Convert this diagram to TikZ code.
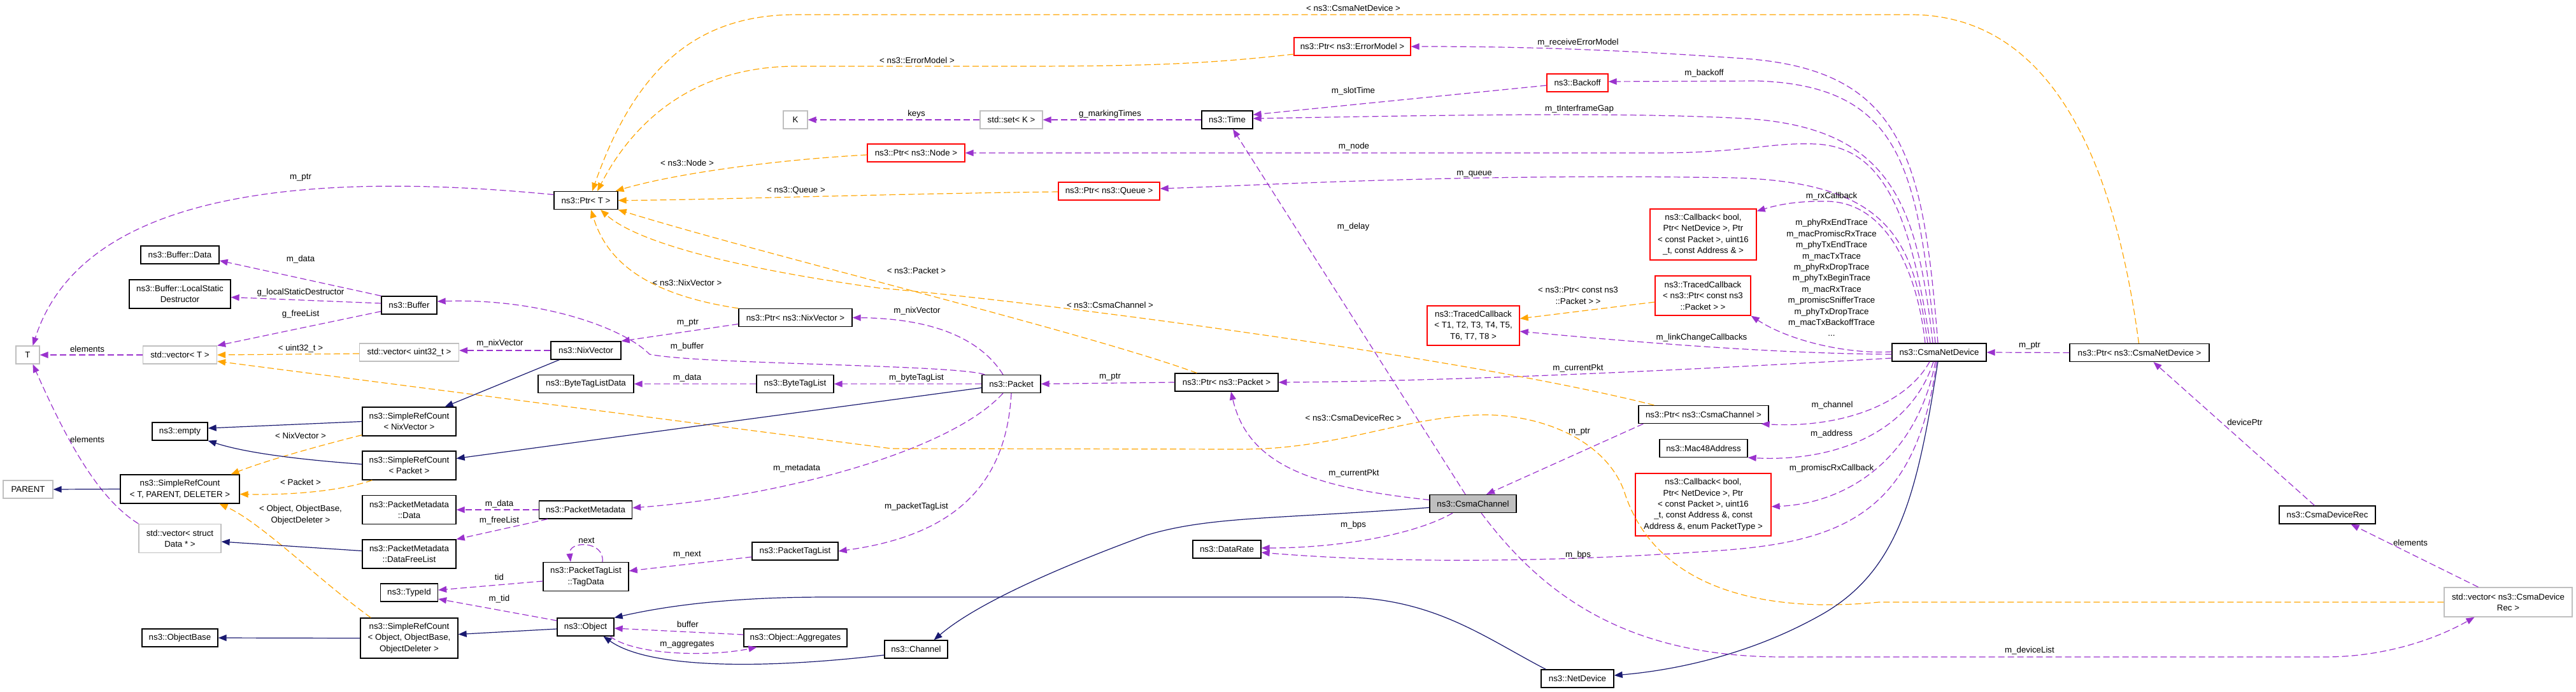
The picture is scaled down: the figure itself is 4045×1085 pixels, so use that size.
\documentclass[tikz,border=0pt]{standalone}
\usepackage{fontspec}
\setmainfont{Liberation Sans}
\usetikzlibrary{arrows.meta,calc}
\definecolor{usec}{HTML}{9A32CD}
\definecolor{tmplc}{HTML}{FFA500}
\definecolor{inhc}{HTML}{191970}
\definecolor{grayb}{HTML}{BFBFBF}
\definecolor{redb}{HTML}{FF0000}
\newcommand{\dxf}{\fontsize{13.3pt}{17.4pt}\selectfont}
\begin{document}
\begin{tikzpicture}[x=1pt,y=-1pt,
 box/.style={draw=black,line width=1.3pt,fill=white,inner sep=0pt,align=center,font=\dxf},
 gbox/.style={box,draw=grayb},
 rbox/.style={box,draw=redb},
 bx/.style 2 args={minimum width=#1pt,minimum height=#2pt},
 lbl/.style={font=\dxf,inner sep=0pt,align=center},
 tip/.style={-{Triangle[length=13pt,width=10pt]}},
 use/.style={draw=usec,line width=1.2pt,dash pattern=on 10pt off 5pt,tip},
 tmpl/.style={draw=tmplc,line width=1.2pt,dash pattern=on 10pt off 5pt,tip},
 inh/.style={draw=inhc,line width=1.2pt,tip}]
\fill[white] (0,0) rectangle (4045,1085);
\useasboundingbox (0,0) rectangle (4045,1085);
% nodes
\node[box,bx={123}{28}] (BufData) at (282.5,400) {ns3::Buffer::Data};
\node[box,bx={159}{45}] (BufLSD) at (282.5,461.5) {ns3::Buffer::LocalStatic\\Destructor};
\node[box,bx={87}{28}] (Buffer) at (642.5,479) {ns3::Buffer};
\node[gbox,bx={37}{28}] (T) at (43.5,557) {T};
\node[gbox,bx={116}{28}] (stdvecT) at (282.5,557) {std::vector< T >};
\node[gbox,bx={156}{28}] (stdvecuint) at (642.5,553) {std::vector< uint32\_t >};
\node[box,bx={110}{28}] (NixVector) at (920,550) {ns3::NixVector};
\node[box,bx={178}{28}] (PtrNix) at (1249,498.5) {ns3::Ptr< ns3::NixVector >};
\node[box,bx={150}{28}] (BTLD) at (920,602.5) {ns3::ByteTagListData};
\node[box,bx={121}{28}] (BTL) at (1248.5,602.5) {ns3::ByteTagList};
\node[box,bx={87}{28}] (empty) at (282.5,677) {ns3::empty};
\node[box,bx={147}{45}] (SRCNix) at (642.5,661.5) {ns3::SimpleRefCount\\< NixVector >};
\node[box,bx={147}{45}] (SRCPacket) at (642.5,730.5) {ns3::SimpleRefCount\\< Packet >};
\node[box,bx={187}{45}] (SRCT) at (282.5,767.5) {ns3::SimpleRefCount\\< T, PARENT, DELETER >};
\node[gbox,bx={78}{28}] (PARENT) at (44,768) {PARENT};
\node[box,bx={147}{45}] (PMData) at (642.5,800) {ns3::PacketMetadata\\::Data};
\node[box,bx={147}{45}] (PMDFL) at (642.5,869.5) {ns3::PacketMetadata\\::DataFreeList};
\node[gbox,bx={129}{45}] (stdvecData) at (282.5,845) {std::vector< struct\\Data * >};
\node[box,bx={146}{28}] (PM) at (919.5,800) {ns3::PacketMetadata};
\node[box,bx={134}{45}] (TagData) at (920,905) {ns3::PacketTagList\\::TagData};
\node[box,bx={135}{28}] (PTL) at (1248.5,865) {ns3::PacketTagList};
\node[box,bx={90}{28}] (TypeId) at (642.5,930) {ns3::TypeId};
\node[box,bx={153}{63}] (SRCObj) at (642.5,1001.5) {ns3::SimpleRefCount\\< Object, ObjectBase,\\ObjectDeleter >};
\node[box,bx={119}{28}] (ObjectBase) at (282.5,1001) {ns3::ObjectBase};
\node[box,bx={89}{28}] (Object) at (919.5,984) {ns3::Object};
\node[box,bx={162}{28}] (ObjAgg) at (1249,1001) {ns3::Object::Aggregates};
\node[box,bx={99}{28}] (Channel) at (1438.5,1019) {ns3::Channel};
\node[box,bx={92}{28}] (Packet) at (1588,602.5) {ns3::Packet};
\node[box,bx={162}{28}] (PtrPacket) at (1926,600) {ns3::Ptr< ns3::Packet >};
\node[box,bx={100}{28}] (PtrT) at (920,314.5) {ns3::Ptr< T >};
\node[gbox,bx={38}{28}] (K) at (1249,188) {K};
\node[gbox,bx={98}{28}] (stdsetK) at (1588,188) {std::set< K >};
\node[box,bx={80}{28}] (Time) at (1927,188) {ns3::Time};
\node[rbox,bx={153}{28}] (PtrNode) at (1438.5,240) {ns3::Ptr< ns3::Node >};
\node[rbox,bx={159}{28}] (PtrQueue) at (1741.5,300) {ns3::Ptr< ns3::Queue >};
\node[rbox,bx={183}{28}] (PtrErr) at (2123.5,73) {ns3::Ptr< ns3::ErrorModel >};
\node[rbox,bx={96}{28}] (Backoff) at (2477,130) {ns3::Backoff};
\node[rbox,bx={167}{80}] (CB1) at (2674.5,368) {ns3::Callback< bool,\\Ptr< NetDevice >, Ptr\\< const Packet >, uint16\\\_t, const Address \& >};
\node[rbox,bx={150}{62}] (TCBP) at (2674,464) {ns3::TracedCallback\\< ns3::Ptr< const ns3\\::Packet > >};
\node[rbox,bx={145}{62}] (TCBT) at (2313.5,511) {ns3::TracedCallback\\< T1, T2, T3, T4, T5,\\T6, T7, T8 >};
\node[box,bx={148}{28}] (CND) at (3045,553) {ns3::CsmaNetDevice};
\node[box,bx={219}{28}] (PtrCND) at (3359.5,553.5) {ns3::Ptr< ns3::CsmaNetDevice >};
\node[box,bx={204}{28}] (PtrCC) at (2675,650.5) {ns3::Ptr< ns3::CsmaChannel >};
\node[box,bx={138}{28}] (Mac48) at (2675,703.5) {ns3::Mac48Address};
\node[rbox,bx={213}{98}] (CB2) at (2674.5,792) {ns3::Callback< bool,\\Ptr< NetDevice >, Ptr\\< const Packet >, uint16\\\_t, const Address \&, const\\Address \&, enum PacketType >};
\node[box,bx={136}{28},fill=grayb] (CC) at (2313,790.5) {ns3::CsmaChannel};
\node[box,bx={107}{28}] (DataRate) at (1926.5,862) {ns3::DataRate};
\node[box,bx={114}{28}] (NetDevice) at (2477,1065) {ns3::NetDevice};
\node[box,bx={151}{28}] (CDR) at (3654.5,808) {ns3::CsmaDeviceRec};
\node[gbox,bx={201}{46}] (stdvecCDR) at (3938.5,945) {std::vector< ns3::CsmaDevice\\Rec >};
% usage edges (purple)
\draw[use] (Buffer.north west) -- ($(BufData.east)+(0,9)$);
\draw[use] ($(Buffer.west)+(0,-3)$) -- ($(BufLSD.east)+(0,5)$);
\draw[use] ($(Buffer.south west)+(0,-5)$) -- (stdvecT.north east);
\draw[use] (stdvecT.west) -- (T.east);
\draw[use] (stdvecData.north west) .. controls (150,780) and (100,680) .. ($(T.south)+(8,0)$);
\draw[use] ($(PtrT.west)+(0,-9)$) .. controls (400,260) and (120,330) .. ($(T.north)+(8,0)$);
\draw[use] (NixVector.west) -- ($(stdvecuint.east)+(0,-3)$);
\draw[use] ($(PtrNix.west)+(0,10)$) -- (NixVector.north east);
\draw[use] ($(Packet.north west)+(5,0)$) .. controls (1500,572) and (1100,572) .. (1020,556) .. controls (980,515) and (850,468) .. ($(Buffer.east)+(0,-6)$);
\draw[use] ($(Packet.north)+(-13,0)$) .. controls (1545,540) and (1480,500) .. (PtrNix.east);
\draw[use] (BTL.west) -- (BTLD.east);
\draw[use] (Packet.west) -- (BTL.east);
\draw[use] (PM.west) -- (PMData.east);
\draw[use] ($(PM.south west)+(14,0)$) -- (PMDFL.north east);
\draw[use] ($(Packet.south)+(-13,0)$) .. controls (1490,710) and (1220,780) .. ($(PM.east)+(0,-3)$);
\draw[use] ($(TagData.north)+(26,0)$) .. controls (950,848) and (892,848) .. ($(TagData.north)+(-24,0)$);
\draw[use] ($(PTL.west)+(0,9)$) -- ($(TagData.east)+(0,-9)$);
\draw[use] (Packet.south) .. controls (1580,760) and (1500,840) .. (PTL.east);
\draw[use] ($(TagData.west)+(0,7)$) -- ($(TypeId.east)+(0,-4)$);
\draw[use] ($(Object.west)+(0,-10)$) -- ($(TypeId.east)+(0,10)$);
\draw[use] ($(ObjAgg.west)+(0,-5)$) -- ($(Object.east)+(0,2)$);
\draw[use] ($(Object.south east)+(-7,0)$) .. controls (1000,1030) and (1120,1030) .. ($(ObjAgg.south west)+(21,0)$);
\draw[use] (stdsetK.west) -- (K.east);
\draw[use] (Time.west) -- (stdsetK.east);
\draw[use] (PtrPacket.west) -- (Packet.east);
\draw[use] ($(CND.north)+(-2,0)$) .. controls (3020,250) and (2990,110) .. (2740,92) .. controls (2500,75) and (2350,73) .. (PtrErr.east);
\draw[use] ($(CND.north)+(-6,0)$) .. controls (3010,270) and (2990,135) .. (2760,127) -- ($(Backoff.east)+(0,-2)$);
\draw[use] ($(Backoff.west)+(0,4)$) -- ($(Time.east)+(0,-8)$);
\draw[use] ($(CND.north)+(-10,0)$) .. controls (3010,320) and (2970,200) .. (2740,186) .. controls (2550,176) and (2300,180) .. ($(Time.east)+(0,-2)$);
\draw[use] ($(CND.north)+(-14,0)$) .. controls (3000,340) and (2960,230) .. (2850,226) .. controls (2780,223) and (2740,240) .. (2600,240) -- (PtrNode.east);
\draw[use] ($(CND.north)+(-18,0)$) .. controls (3005,380) and (2970,285) .. (2720,279) .. controls (2300,272) and (2000,290) .. ($(PtrQueue.east)+(0,-4)$);
\draw[use] ($(CC.north)+(-12,0)$) -- ($(Time.south)+(9,0)$);
\draw[use] ($(CND.north)+(-22,0)$) .. controls (3010,420) and (2960,318) .. (2870,316) .. controls (2820,315) and (2790,322) .. ($(CB1.north east)+(0,4)$);
\draw[use] ($(CND.west)+(0,-1)$) .. controls (2900,556) and (2810,535) .. (TCBP.south east);
\draw[use] ($(CND.west)+(0,3)$) .. controls (2800,555) and (2600,540) .. ($(TCBT.east)+(0,9)$);
\draw[use] ($(CND.west)+(0,9)$) .. controls (2700,578) and (2300,598) .. (PtrPacket.east);
\draw[use] ($(CC.west)+(0,-6)$) .. controls (2060,765) and (1960,730) .. ($(PtrPacket.south)+(7,0)$);
\draw[use] (PtrCND.west) -- (CND.east);
\draw[use] ($(CND.south)+(-15,0)$) .. controls (2990,640) and (2880,672) .. ($(PtrCC.south east)+(-12,0)$);
\draw[use] ($(CND.south)+(-9,0)$) .. controls (3000,680) and (2880,725) .. (Mac48.south east);
\draw[use] ($(CND.south)+(-6,0)$) .. controls (3010,720) and (2900,790) .. ($(CB2.east)+(0,3)$);
\draw[use] ($(CND.south)+(-4,0)$) .. controls (3010,800) and (2900,850) .. (2700,864) .. controls (2450,882) and (2200,885) .. ($(DataRate.east)+(0,5)$);
\draw[use] ($(CC.south)+(-32,0)$) .. controls (2220,840) and (2100,860) .. ($(DataRate.east)+(0,-2)$);
\draw[use] ($(PtrCC.south west)+(8,0)$) -- ($(CC.north)+(21,0)$);
\draw[use] ($(CDR.north)+(-20,0)$) -- ($(PtrCND.south)+(22,0)$);
\draw[use] ($(stdvecCDR.north)+(-47,0)$) -- ($(CDR.south)+(37,0)$);
\draw[use] ($(CC.south)+(13,0)$) .. controls (2420,930) and (2550,1031) .. (2800,1031) -- (3650,1031) .. controls (3750,1031) and (3830,1000) .. ($(stdvecCDR.south)+(-53,0)$);
% template edges (orange)
\draw[tmpl] ($(stdvecuint.west)+(0,2)$) -- (stdvecT.east);
\draw[tmpl] ($(SRCNix.south west)+(0,-2)$) .. controls (500,700) and (420,722) .. ($(SRCT.north east)+(-14,0)$);
\draw[tmpl] ($(SRCPacket.south west)+(16,0)$) .. controls (530,772) and (450,777) .. ($(SRCT.east)+(0,8)$);
\draw[tmpl] ($(SRCObj.north west)+(17,0)$) .. controls (500,910) and (410,820) .. ($(SRCT.south)+(62,0)$);
\draw[tmpl] ($(PtrCND.north)+(-1,0)$) .. controls (3320,250) and (3220,23) .. (3000,23) -- (1250,23) .. controls (1100,23) and (1000,100) .. ($(PtrT.north)+(10,0)$);
\draw[tmpl] ($(PtrErr.west)+(0,12)$) .. controls (1900,100) and (1800,104) .. (1600,104) -- (1250,104) .. controls (1100,104) and (1000,180) .. ($(PtrT.north)+(18,0)$);
\draw[tmpl] ($(PtrNode.west)+(0,3)$) .. controls (1200,252) and (1050,275) .. ($(PtrT.north east)+(-4,0)$);
\draw[tmpl] ($(PtrQueue.west)+(0,1)$) .. controls (1400,304) and (1100,314) .. (PtrT.east);
\draw[tmpl] ($(PtrPacket.north west)+(35,0)$) .. controls (1700,520) and (1200,400) .. (PtrT.south east);
\draw[tmpl] ($(PtrCC.north west)+(25,0)$) .. controls (2300,560) and (1600,470) .. (1380,452) .. controls (1150,420) and (1000,380) .. ($(PtrT.south)+(23,0)$);
\draw[tmpl] (PtrNix.north west) .. controls (1000,460) and (950,400) .. ($(PtrT.south)+(8,0)$);
\draw[tmpl] ($(TCBP.west)+(0,10)$) -- ($(TCBT.east)+(0,-11)$);
\draw[tmpl] (stdvecCDR.west) -- (2950,945) .. controls (2780,962) and (2600,930) .. (2550,770) .. controls (2520,690) and (2420,650) .. (2326,651) .. controls (2200,655) and (2100,705) .. (1950,705) -- (1400,704) -- ($(stdvecT.east)+(0,10)$);
% inheritance edges (navy)
\draw[inh] (SRCT.west) -- (PARENT.east);
\draw[inh] (SRCNix.west) -- ($(empty.east)+(0,-5)$);
\draw[inh] ($(SRCPacket.west)+(0,-2)$) .. controls (480,722) and (390,712) .. (empty.south east);
\draw[inh] ($(NixVector.south west)+(14,0)$) -- ($(SRCNix.north east)+(-18,0)$);
\draw[inh] ($(Packet.west)+(0,6)$) -- ($(SRCPacket.east)+(0,-11)$);
\draw[inh] ($(PMDFL.west)+(0,-5)$) -- ($(stdvecData.east)+(0,5)$);
\draw[inh] (SRCObj.west) -- (ObjectBase.east);
\draw[inh] ($(Object.west)+(0,3)$) -- ($(SRCObj.east)+(0,-6)$);
\draw[inh] ($(NetDevice.north west)+(8,0)$) .. controls (2330,1000) and (2250,937) .. (2100,937) -- (1300,937) .. controls (1150,937) and (1050,950) .. (Object.north east);
\draw[inh] ($(Channel.west)+(0,9)$) .. controls (1200,1050) and (1020,1050) .. ($(Object.south)+(28,0)$);
\draw[inh] ($(CC.west)+(0,6)$) .. controls (2000,815) and (1900,810) .. (1800,840) .. controls (1650,895) and (1530,950) .. ($(Channel.north)+(28,0)$);
\draw[inh] ($(CND.south)+(-2,0)$) .. controls (3010,780) and (2980,900) .. (2854,968) .. controls (2760,1020) and (2650,1050) .. ($(NetDevice.east)+(0,-5)$);
% labels
\node[lbl] (La1) at (472,279) {m\_ptr};
\node[lbl] (La2) at (472,407) {m\_data};
\node[lbl] (La3) at (472,459) {g\_localStaticDestructor};
\node[lbl] (La4) at (472,493) {g\_freeList};
\node[lbl] (La5) at (137,548) {elements};
\node[lbl] (La6) at (472,547) {< uint32\_t >};
\node[lbl] (La7) at (472,684) {< NixVector >};
\node[lbl] (La8) at (137,690) {elements};
\node[lbl] (La9) at (472,757) {< Packet >};
\node[lbl] (La10) at (472,808) {< Object, ObjectBase,\\ObjectDeleter >};
\node[lbl] (La11) at (1079,256) {< ns3::Node >};
\node[lbl] (La12) at (1250,299) {< ns3::Queue >};
\node[lbl] (La13) at (1079,444) {< ns3::NixVector >};
\node[lbl] (La14) at (1080,507) {m\_ptr};
\node[lbl] (La15) at (785,539) {m\_nixVector};
\node[lbl] (La16) at (1079,544) {m\_buffer};
\node[lbl] (La17) at (1079,593) {m\_data};
\node[lbl] (La18) at (784,791) {m\_data};
\node[lbl] (La19) at (784,817) {m\_freeList};
\node[lbl] (La20) at (1251,735) {m\_metadata};
\node[lbl] (La21) at (921,848) {next};
\node[lbl] (La22) at (1079,871) {m\_next};
\node[lbl] (La23) at (784,906) {tid};
\node[lbl] (La24) at (784,940) {m\_tid};
\node[lbl] (La25) at (1080,980) {buffer};
\node[lbl] (La26) at (1079,1012) {m\_aggregates};
\node[lbl] (La27) at (1440,95) {< ns3::ErrorModel >};
\node[lbl] (La28) at (1439,179) {keys};
\node[lbl] (La29) at (1743,179) {g\_markingTimes};
\node[lbl] (La30) at (1439,425) {< ns3::Packet >};
\node[lbl] (La31) at (1743,479) {< ns3::CsmaChannel >};
\node[lbl] (La32) at (1440,488) {m\_nixVector};
\node[lbl] (La33) at (1439,593) {m\_byteTagList};
\node[lbl] (La34) at (1743,592) {m\_ptr};
\node[lbl] (La35) at (1439,795) {m\_packetTagList};
\node[lbl] (La36) at (2125,13) {< ns3::CsmaNetDevice >};
\node[lbl] (La37) at (2478,67) {m\_receiveErrorModel};
\node[lbl] (La38) at (2676,115) {m\_backoff};
\node[lbl] (La39) at (2125,143) {m\_slotTime};
\node[lbl] (La40) at (2480,171) {m\_tInterframeGap};
\node[lbl] (La41) at (2126,230) {m\_node};
\node[lbl] (La42) at (2315,273) {m\_queue};
\node[lbl] (La43) at (2125,356) {m\_delay};
\node[lbl] (La44) at (2478,464) {< ns3::Ptr< const ns3\\::Packet > >};
\node[lbl] (La45) at (2672,530) {m\_linkChangeCallbacks};
\node[lbl] (La46) at (2876,308) {m\_rxCallback};
\node[lbl] (La47) at (2876,436) {m\_phyRxEndTrace\\m\_macPromiscRxTrace\\m\_phyTxEndTrace\\m\_macTxTrace\\m\_phyRxDropTrace\\m\_phyTxBeginTrace\\m\_macRxTrace\\m\_promiscSnifferTrace\\m\_phyTxDropTrace\\m\_macTxBackoffTrace\\...};
\node[lbl] (La48) at (3187,543) {m\_ptr};
\node[lbl] (La49) at (2478,578) {m\_currentPkt};
\node[lbl] (La50) at (2125,656) {< ns3::CsmaDeviceRec >};
\node[lbl] (La51) at (2480,678) {m\_ptr};
\node[lbl] (La52) at (2877,636) {m\_channel};
\node[lbl] (La53) at (2876,681) {m\_address};
\node[lbl] (La54) at (2876,735) {m\_promiscRxCallback};
\node[lbl] (La55) at (2126,743) {m\_currentPkt};
\node[lbl] (La56) at (2125,824) {m\_bps};
\node[lbl] (La57) at (2478,871) {m\_bps};
\node[lbl] (La58) at (3187,1021) {m\_deviceList};
\node[lbl] (La59) at (3525,663) {devicePtr};
\node[lbl] (La60) at (3785,852) {elements};
\end{tikzpicture}
\end{document}
